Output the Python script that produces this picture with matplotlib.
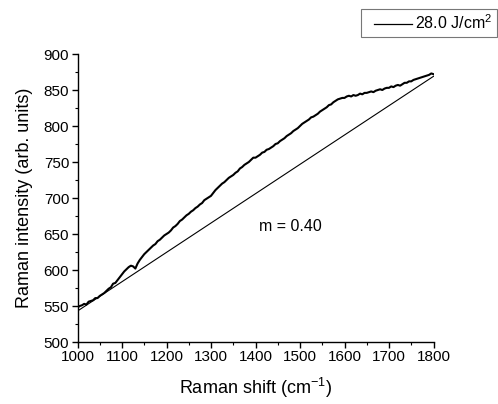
import matplotlib
matplotlib.use("Agg")
import matplotlib.pyplot as plt
from matplotlib.ticker import MultipleLocator
from matplotlib.legend_handler import HandlerLine2D
from matplotlib.lines import Line2D

plt.rcParams['font.family'] = ['Liberation Sans', 'DejaVu Sans']
plt.rcParams['mathtext.fontset'] = 'custom'
plt.rcParams['mathtext.rm'] = 'Liberation Sans'
plt.rcParams['mathtext.it'] = 'Liberation Sans:italic'
plt.rcParams['mathtext.bf'] = 'Liberation Sans:bold'

# Raman spectrum (cm^-1, arb. units)
shift = list(range(1000, 1805, 5))
intensity = [
    548, 550, 551, 553, 552, 556, 557, 558, 561, 561,
    564, 566, 568, 571, 574, 576, 581, 582, 586, 590,
    594, 598, 601, 604, 606, 605, 602, 609, 614, 618,
    622, 625, 628, 631, 634, 636, 640, 642, 645, 648,
    650, 652, 655, 659, 661, 664, 668, 670, 673, 676,
    678, 681, 683, 686, 688, 691, 693, 697, 699, 701,
    703, 707, 711, 714, 717, 720, 722, 725, 728, 730,
    732, 735, 737, 741, 743, 746, 748, 750, 753, 756,
    756, 758, 760, 763, 764, 767, 768, 770, 772, 775,
    776, 779, 781, 783, 786, 788, 790, 793, 795, 797,
    800, 803, 805, 807, 809, 812, 813, 815, 817, 820,
    822, 824, 826, 829, 830, 833, 835, 837, 838, 839,
    839, 841, 842, 841, 843, 842, 843, 845, 844, 846,
    846, 847, 848, 847, 849, 850, 851, 850, 852, 853,
    853, 855, 854, 856, 857, 856, 858, 860, 860, 862,
    862, 864, 865, 866, 867, 868, 869, 870, 871, 873,
    872,
]

# Linear baseline
baseline_x = [1000, 1800]
baseline_y = [543, 869]

series_label = "28.0 J/cm$^{2}$"
slope_label = "m = 0.40"

fig = plt.figure(figsize=(4.98, 4.04), dpi=100)
ax = fig.add_axes([77.5 / 498, 1 - 342 / 404, (433.5 - 77.5) / 498, (342 - 54) / 404])

ax.plot(shift, intensity, color='black', lw=1.5, label=series_label)
ax.plot(baseline_x, baseline_y, color='black', lw=0.8)

ax.set_xlim(1000, 1800)
ax.set_ylim(500, 900)
ax.xaxis.set_major_locator(MultipleLocator(100))
ax.xaxis.set_minor_locator(MultipleLocator(50))
ax.yaxis.set_major_locator(MultipleLocator(50))
ax.yaxis.set_minor_locator(MultipleLocator(25))

for s in ['top', 'right']:
    ax.spines[s].set_visible(False)
for s in ['left', 'bottom']:
    ax.spines[s].set_linewidth(1.0)

ax.tick_params(which='major', direction='out', length=4, width=1.0, labelsize=11, pad=2)
ax.tick_params(which='minor', direction='out', length=2.5, width=0.8)

ax.set_xlabel("Raman shift (cm$^{-1}$)", fontsize=13, labelpad=8)
ax.set_ylabel("Raman intensity (arb. units)", fontsize=13, labelpad=8)

ax.text(1407, 660, slope_label, fontsize=11.5, va='center', ha='left')

handles, labels = ax.get_legend_handles_labels()
leg = fig.legend(handles[:1], labels[:1], loc='upper left',
                 bbox_to_anchor=(361 / 498, 1 - 9 / 404),
                 fontsize=11.5, frameon=True, fancybox=False, shadow=False,
                 handlelength=2.9, handletextpad=0.2, borderpad=0.3,
                 borderaxespad=0,
                 handler_map={Line2D: HandlerLine2D(xpad=0.5)})
leg.get_frame().set_edgecolor('#555555')
leg.get_frame().set_linewidth(0.8)
for h in leg.get_lines():
    h.set_linewidth(0.9)

fig.savefig("out.png", dpi=100)
